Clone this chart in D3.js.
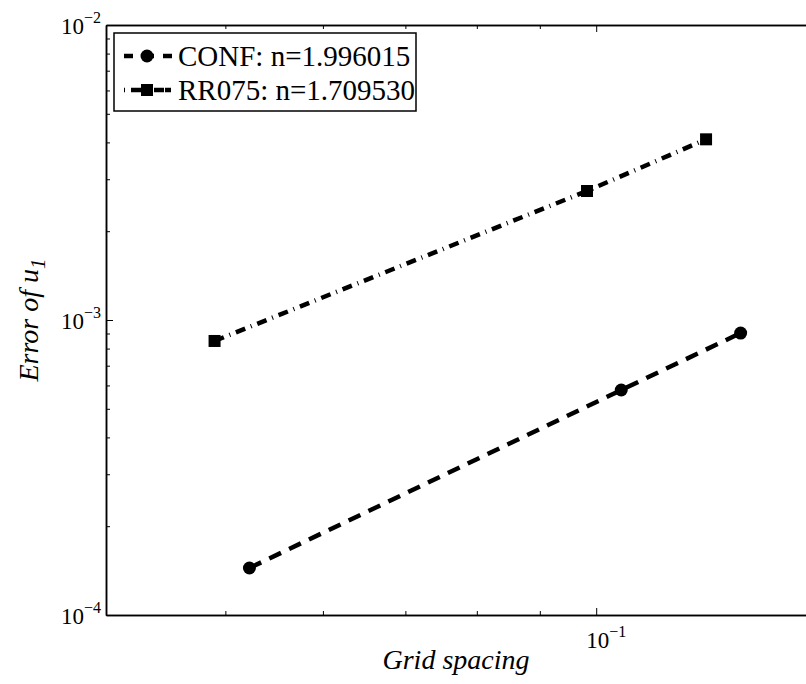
<!DOCTYPE html>
<html>
<head>
<meta charset="utf-8">
<script src="https://cdn.jsdelivr.net/npm/d3@7"></script>
<style>
  body { margin: 0; background: #fff; }
  svg { display: block; font-family: "Liberation Serif", "Times New Roman", serif; }
</style>
</head>
<body>
<svg width="806" height="684"></svg>
<script>
// grid spacing and error values
var confH = [0.0523, 0.1048, 0.1310]
var confErr = [1.443e-4, 5.79e-4, 9.03e-4]
var rrH = [0.0490, 0.0983, 0.1228]
var rrErr = [8.49e-4, 2.737e-3, 4.097e-3]
var legendLabels = ["CONF: n=1.996015", "RR075: n=1.709530"]
var xMajor = [0.1]
var xMinor = [0.04, 0.05, 0.06, 0.07, 0.08, 0.09, 0.2]
var yMajor = [1e-4, 1e-3, 1e-2]
var yMinor = [2, 3, 4, 5, 6, 7, 8, 9].flatMap(k => [k * 1e-4, k * 1e-3])

function draw() {
    var svg = d3.select("svg")
    var pxL = 106, pxR = 967, pxT = 25, pxB = 615

    var scX = d3.scaleLog().domain([0.04, 0.2]).range([pxL, pxR])
    var scY = d3.scaleLog().domain([1e-4, 1e-2]).range([pxB, pxT])

    var styleAxis = function (g) {
        g.select(".domain").attr("stroke-width", 1.5)
        g.selectAll(".tick line").attr("stroke-width", 1)
        g.selectAll("text").remove()
    }

    // ticks pointing inward on all visible sides
    svg.append("g").attr("transform", `translate(0,${pxB})`)
        .call(d3.axisBottom(scX).tickValues(xMajor).tickSizeInner(-7).tickSizeOuter(0)).call(styleAxis)
    svg.append("g").attr("transform", `translate(0,${pxB})`)
        .call(d3.axisBottom(scX).tickValues(xMinor).tickSizeInner(-4).tickSizeOuter(0)).call(styleAxis)
    svg.append("g").attr("transform", `translate(0,${pxT})`)
        .call(d3.axisTop(scX).tickValues(xMajor).tickSizeInner(-7).tickSizeOuter(0)).call(styleAxis)
    svg.append("g").attr("transform", `translate(0,${pxT})`)
        .call(d3.axisTop(scX).tickValues(xMinor).tickSizeInner(-4).tickSizeOuter(0)).call(styleAxis)
    svg.append("g").attr("transform", `translate(${pxL},0)`)
        .call(d3.axisLeft(scY).tickValues(yMajor).tickSizeInner(-7).tickSizeOuter(0)).call(styleAxis)
    svg.append("g").attr("transform", `translate(${pxL},0)`)
        .call(d3.axisLeft(scY).tickValues(yMinor).tickSizeInner(-4).tickSizeOuter(0)).call(styleAxis)

    // power-of-ten labels
    var powLabel = function (sel, exp) {
        sel.append("tspan").attr("font-size", 23).text("10")
        sel.append("tspan").attr("font-size", 16).attr("dy", -11).text("\u2212" + exp)
    }
    yMajor.forEach(function (v) {
        svg.append("text").attr("x", 101).attr("y", scY(v) + 9)
            .attr("text-anchor", "end").call(powLabel, Math.round(-Math.log10(v)))
    })
    xMajor.forEach(function (v) {
        svg.append("text").attr("x", scX(v) + 10).attr("y", 648)
            .attr("text-anchor", "middle").call(powLabel, Math.round(-Math.log10(v)))
    })

    // axis titles
    svg.append("text").attr("x", 456).attr("y", 669)
        .attr("text-anchor", "middle").attr("font-size", 28).attr("font-style", "italic")
        .text("Grid spacing")
    var yt = svg.append("text").attr("transform", "translate(38,320) rotate(-90)")
        .attr("text-anchor", "middle").attr("font-size", 28).attr("font-style", "italic")
    yt.append("tspan").text("Error of u")
    yt.append("tspan").attr("dy", 7).attr("font-size", 21).text("1")

    // series
    var confData = confH.map((h, i) => ({h: h, e: confErr[i]}))
    var rrData = rrH.map((h, i) => ({h: h, e: rrErr[i]}))
    var lineMaker = d3.line().x(d => scX(d.h)).y(d => scY(d.e))

    svg.append("path").attr("d", lineMaker(confData))
        .attr("fill", "none").attr("stroke", "#000").attr("stroke-width", 4.5)
        .attr("stroke-dasharray", "13,9")
    svg.append("path").attr("d", lineMaker(rrData))
        .attr("fill", "none").attr("stroke", "#000").attr("stroke-width", 4.5)
        .attr("stroke-dasharray", "10,6,1,6")

    svg.append("g").selectAll("circle").data(confData).enter().append("circle")
        .attr("r", 6.5).attr("fill", "#000")
        .attr("cx", d => scX(d.h)).attr("cy", d => scY(d.e))
    svg.append("g").selectAll("rect").data(rrData).enter().append("rect")
        .attr("width", 12).attr("height", 12).attr("fill", "#000")
        .attr("x", d => scX(d.h) - 6).attr("y", d => scY(d.e) - 6)

    // legend
    var lg = svg.append("g")
    lg.append("rect").attr("x", 114).attr("y", 33).attr("width", 302).attr("height", 78)
        .attr("fill", "#fff").attr("stroke", "#000").attr("stroke-width", 1.5)
    var rows = [56, 90]
    lg.append("line").attr("x1", 124).attr("x2", 172).attr("y1", rows[0]).attr("y2", rows[0])
        .attr("stroke", "#000").attr("stroke-width", 4.5).attr("stroke-dasharray", "9,9,12,9")
    lg.append("circle").attr("cx", 147).attr("cy", rows[0]).attr("r", 6.5).attr("fill", "#000")
    lg.append("line").attr("x1", 124).attr("x2", 172).attr("y1", rows[1]).attr("y2", rows[1])
        .attr("stroke", "#000").attr("stroke-width", 4.5).attr("stroke-dasharray", "1,6,10,6,1,6,10")
    lg.append("rect").attr("x", 141).attr("y", rows[1] - 6).attr("width", 12).attr("height", 12).attr("fill", "#000")
    lg.selectAll("text.lab").data(legendLabels).enter().append("text")
        .attr("x", 178).attr("y", (d, i) => rows[i] + 10)
        .attr("font-size", 29).text(d => d)
}

draw()
</script>
</body>
</html>
